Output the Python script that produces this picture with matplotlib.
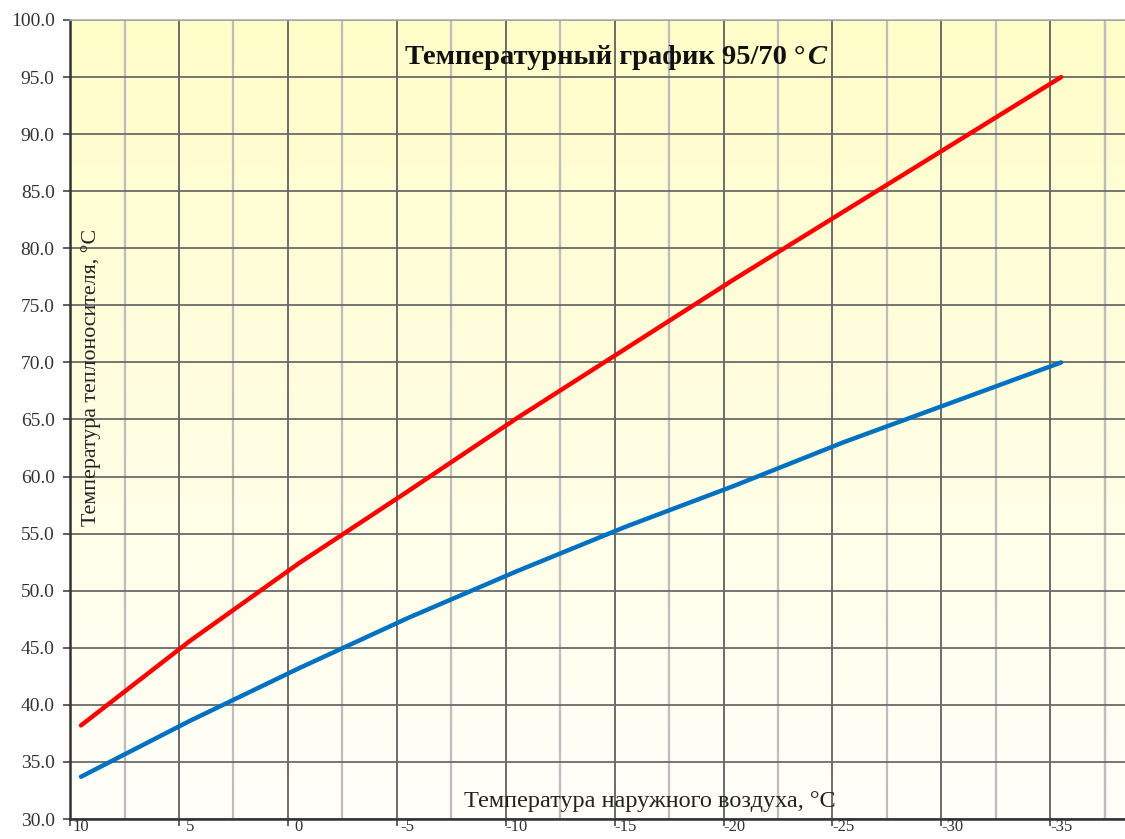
import numpy as np
import matplotlib
matplotlib.use("Agg")
import matplotlib.pyplot as plt
from matplotlib.transforms import ScaledTranslation
from matplotlib.colors import LinearSegmentedColormap

# ---- data ----
outdoor_temp = [10, 5, 0, -5, -10, -15, -20, -25, -30, -35]
supply_temp = [38.2, 45.6, 52.4, 58.7, 65.1, 71.2, 77.3, 83.2, 89.1, 95.0]
return_temp = [33.7, 38.6, 43.2, 47.6, 51.7, 55.6, 59.2, 63.0, 66.5, 70.0]
xtick_labels = ["10", "5", "0", "-5", "-10", "-15", "-20", "-25", "-30", "-35"]
ytick_values = [30, 35, 40, 45, 50, 55, 60, 65, 70, 75, 80, 85, 90, 95, 100]

title_main = "Температурный график 95/70 °"
title_unit = "C"
ylabel = "Температура теплоносителя, °C"
xlabel = "Температура наружного воздуха, °C"

plt.rcParams['font.family'] = ['Liberation Serif', 'DejaVu Serif']

W, H = 1125, 839
fig = plt.figure(figsize=(W / 100, H / 100), dpi=100)
ax = fig.add_axes([70 / W, 1 - 819 / H, (W - 70) / W, (819 - 20) / H])

# background gradient
cmap = LinearSegmentedColormap.from_list("bg", ["#FFFFFA", "#FFFDC8"])
grad = np.linspace(0, 1, 256).reshape(-1, 1)
ax.imshow(grad, aspect='auto', cmap=cmap, origin='lower',
          extent=[0, 1, 0, 1], transform=ax.transAxes, zorder=0)

ax.plot(outdoor_temp, supply_temp, color='#FF0000', lw=3.2, zorder=5,
        solid_capstyle='round')
ax.plot(outdoor_temp, return_temp, color='#0070C0', lw=3.2, zorder=5,
        solid_capstyle='round')

ax.set_xlim(10.505, -37.93)
ax.set_ylim(30, 100)

major_x = [v + 0.5 for v in outdoor_temp]
minor_x = [v - 2.0 for v in outdoor_temp] + [-37.0]
ax.set_xticks(major_x)
ax.set_xticklabels(xtick_labels)
ax.set_xticks(minor_x, minor=True)
ax.set_yticks(ytick_values)
ax.set_yticklabels([f"{v:.1f}" for v in ytick_values])

ax.grid(which='major', axis='x', color='#606060', lw=1.3, zorder=1)
ax.grid(which='minor', axis='x', color='#BDBDBD', lw=1.6, zorder=1)
ax.grid(which='major', axis='y', color='#6a6a6a', lw=1.3, zorder=1)
ax.set_axisbelow(True)

ax.tick_params(axis='both', which='major', length=5, width=1.2, color='#444',
               labelcolor='#333')
ax.tick_params(axis='y', labelsize=14, pad=6)
ax.tick_params(axis='x', labelsize=12, pad=-5)
ax.tick_params(axis='x', which='minor', length=0)

offset = ScaledTranslation(11 / 100, 0, fig.dpi_scale_trans)
for lab in ax.get_xticklabels():
    lab.set_transform(lab.get_transform() + offset)

for s in ['left', 'bottom']:
    ax.spines[s].set_color('#333333')
    ax.spines[s].set_linewidth(1.8)
ax.spines['top'].set_color('#B0B0B0')
ax.spines['top'].set_linewidth(1.2)
ax.spines['right'].set_visible(False)

# title
t = fig.text(405 / W, 1 - 57 / H, title_main, fontsize=20.5, fontweight='bold',
             ha='left', va='center', color='#111')
ax.annotate(title_unit, xy=(1, 0), xycoords=t, xytext=(1, 0),
            textcoords='offset points', fontsize=20.5, fontweight='bold',
            fontstyle='italic', ha='left', va='bottom', color='#111')

fig.text(91 / W, 1 - 377 / H, ylabel, rotation=90, fontsize=15.8,
         ha='center', va='center', color='#222')
fig.text(650 / W, 1 - 802 / H, xlabel, fontsize=17.5, ha='center',
         va='center', color='#222')

fig.savefig("out.png", dpi=100)
